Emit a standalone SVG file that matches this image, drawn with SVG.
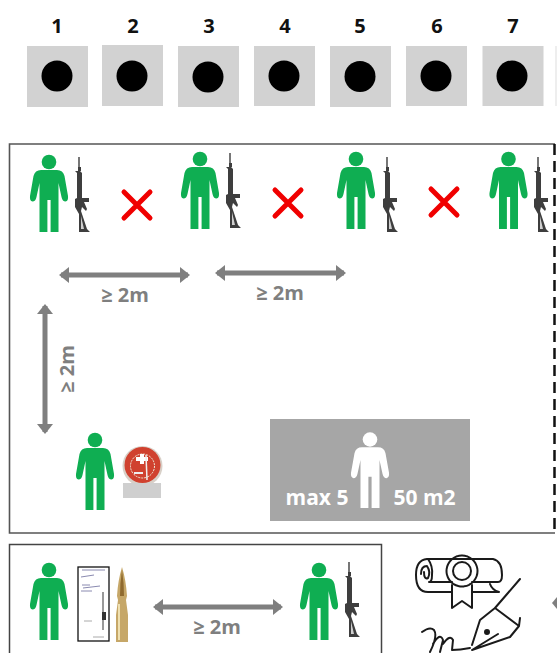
<svg xmlns="http://www.w3.org/2000/svg" width="557" height="653" viewBox="0 0 557 653">
<style>
.t{fill:#d2d2d2}
.n{font:bold 20px "Open Sans","Liberation Sans",sans-serif;fill:#111;text-anchor:middle}
.g{font:bold 20px "Open Sans","Liberation Sans",sans-serif;fill:#7f7f7f;text-anchor:middle}
.w{font:bold 21px "Open Sans","Liberation Sans",sans-serif;fill:#fff;text-anchor:middle}
.x{stroke:#f00000;stroke-width:5;stroke-linecap:round;fill:none}
.a{stroke:#7f7f7f;stroke-width:5;fill:none;marker-start:url(#h);marker-end:url(#h)}
.i{fill:none;stroke:#1a1a1a;stroke-width:2;stroke-linecap:round;stroke-linejoin:round}
</style>
<defs>
<marker id="h" viewBox="0 0 10 16" refX="8" refY="8" markerWidth="10" markerHeight="16" markerUnits="userSpaceOnUse" orient="auto-start-reverse"><path d="M0 0 L10 8 L0 16 Z" fill="#7f7f7f"/></marker>
<symbol id="p" overflow="visible"><circle cx="0" cy="0" r="7.3"/><path d="M-8 8 H8 Q14 8 15.5 14 L19 34 Q19.5 39 16.5 39.5 Q13.5 39.5 12.5 35 L9.5 21 V70 H1.6 V38 H-1.6 V70 H-9.5 V21 L-12.5 35 Q-13.5 39.5 -16.5 39.5 Q-19.5 39 -19 34 L-15.5 14 Q-14 8 -8 8 Z"/></symbol>
<symbol id="r" overflow="visible"><path d="M-0.7 0 H0.7 V10 H2 V14 H1 L3 16 V41 H10 V45 H5 L8 52 L7 54 L3 50 L2 54 L8 72 L11 75 H0 V57 L-4 50 V42 L-2 41 V16 L-4 14 H-1 V10 H-.7 Z" fill="#3e3e3e"/><path d="M2 59 L5 72 H2 Z" fill="#cfcfcf"/></symbol>
</defs>
<rect width="557" height="653" fill="#fff"/>

<g id="target-1"><text class="n" x="57" y="33">1</text><rect class="t" x="27" y="46" width="61" height="61"/><circle cx="57" cy="76" r="15.5"/></g>
<g id="target-2"><text class="n" x="133" y="33">2</text><rect class="t" x="102" y="45" width="61" height="61"/><circle cx="132" cy="76" r="15.5"/></g>
<g id="target-3"><text class="n" x="209" y="33">3</text><rect class="t" x="178" y="46" width="61" height="61"/><circle cx="208" cy="77" r="15.5"/></g>
<g id="target-4"><text class="n" x="285" y="33">4</text><rect class="t" x="254" y="46" width="61" height="60"/><circle cx="284" cy="76" r="15.5"/></g>
<g id="target-5"><text class="n" x="360" y="33">5</text><rect class="t" x="330" y="46" width="61" height="61"/><circle cx="360" cy="76.500" r="15.5"/></g>
<g id="target-6"><text class="n" x="437" y="33">6</text><rect class="t" x="406" y="46" width="61" height="60"/><circle cx="436" cy="76" r="15.5"/></g>
<g id="target-7"><text class="n" x="513" y="33">7</text><rect class="t" x="482.500" y="46" width="61" height="60"/><circle cx="512" cy="76" r="15.500"/></g>
<rect x="555" y="46" width="2" height="60" fill="#eee"/>

<g id="range-frame" fill="none">
<path d="M555 144 H9.500 V533 H555" stroke="#555" stroke-width="1.600"/>
<path d="M554.500 144 V533" stroke="#111" stroke-width="2.500" stroke-dasharray="11 6"/>
</g>
<g id="lower-frame" fill="none"><path d="M9.500 653 V544.500 H381.500 V653" stroke="#444" stroke-width="1.500"/></g>

<g id="shooter-1"><use href="#p" x="49" y="162" fill="#0fae52"/><use href="#r" x="79" y="157"/></g>
<g id="shooter-2"><use href="#p" x="200" y="159" fill="#0fae52"/><use href="#r" x="230" y="153"/></g>
<g id="shooter-3"><use href="#p" x="356" y="159" fill="#0fae52"/><use href="#r" x="387" y="157"/></g>
<g id="shooter-4"><use href="#p" x="508.500" y="159" fill="#0fae52"/><use href="#r" x="538" y="157"/></g>

<g id="cross-1"><path class="x" d="M124 192 L150 218 M150 192 L124 218"/></g>
<g id="cross-2"><path class="x" d="M275 190 L301 216 M301 190 L275 216"/></g>
<g id="cross-3"><path class="x" d="M431 189 L457 215 M457 189 L431 215"/></g>

<g id="connectors">
<line class="a" x1="61" y1="275" x2="188" y2="275"/>
<line class="a" x1="217" y1="273" x2="344" y2="273"/>
<line class="a" x1="45" y1="306" x2="45" y2="432"/>
<line class="a" x1="155" y1="607" x2="281" y2="607"/>
</g>
<g id="labels">
<text class="g" x="125" y="302">≥ 2m</text>
<text class="g" x="280" y="300">≥ 2m</text>
<text class="g" transform="translate(74 369) rotate(-90)">≥ 2m</text>
<text class="g" x="217" y="634">≥ 2m</text>
</g>

<g id="instructor"><use href="#p" x="95" y="440" fill="#0fae52"/>
<rect x="123" y="483" width="38" height="15" rx="1.500" fill="#cfcfcf"/>
<circle cx="142.500" cy="466" r="20" fill="#d8d0c8"/><circle cx="142.500" cy="465" r="18" fill="#d0412f"/>
<circle cx="142.500" cy="466" r="12" fill="none" stroke="#eed" stroke-width="1" stroke-dasharray="2 1"/>
<path d="M136 457 h4 v-3 h4 v3 h4 v4 h-4 v3 h-4 v-3 h-4 Z" fill="#fff"/>
<path d="M146 455 L147 480" stroke="#eee" stroke-width="1.500"/>
<path d="M134 473 h9" stroke="#eee" stroke-width="2"/>
<rect x="123" y="483" width="38" height="15" fill="#cfcfcf"/>
</g>

<g id="max-area"><rect x="270" y="419" width="200" height="102" fill="#a6a6a6"/>
<g transform="translate(370 439.500) scale(1 .98)"><use href="#p" x="0" y="0" fill="#fff"/></g>
<text class="w" x="317" y="505">max 5</text><text class="w" x="424.500" y="505">50 m2</text></g>

<g id="ammo-issue"><use href="#p" x="49" y="570" fill="#0fae52"/>
<rect x="78" y="567" width="31" height="74" fill="#fff" stroke="#111" stroke-width="1.300"/>
<path d="M82 570 H105 M81 577 L94 575 M82 585 H90 M83 588 L100 586 M81 591 H92" stroke="#8a8ab0" stroke-width="1"/>
<path d="M103 592 V630" stroke="#999" stroke-width="2"/><path d="M102 612 h4 v8 h-4 Z" fill="#333"/>
<path d="M84 621 H92 M93 637 H104" stroke="#aaa" stroke-width="1"/>
<path d="M122 567 Q118 580 117 596 L118 600 L116 615 V642 H128 V615 L126 600 L127 596 Q126 580 122 567 Z" fill="#c6a768"/>
<path d="M122 570 Q120 582 120 596 H124 Q124 582 122 570 Z" fill="#8f6a2f"/>
<path d="M119 604 V640" stroke="#efe0b0" stroke-width="2"/>
</g>
<g id="shooter-5"><use href="#p" x="319" y="570" fill="#0fae52"/><use href="#r" x="349" y="562"/></g>

<g id="certificate" class="i">
<path d="M427 559 H493 Q502 561 502 575 Q502 582 498 582 H472 M452 582 H430 M428 559 Q433 566 432 575 Q432 582 429 582 M427 559 Q416 560 416 575 Q416 592 428 592 H451 M473 592 H499 Q492 590 490 584"/>
<path d="M424 572 Q424 580 428 578 Q431 572 427 566 Q421 566 421 574"/>
<circle cx="462" cy="571" r="15.500" stroke-dasharray="5 .6"/><circle cx="462" cy="571" r="9"/>
<path d="M452 585 V608 L462 601 L472 608 V585"/>
<path d="M520 579 L495 608 M495 608 L519 626 M519 626 L520 618 M495 608 L480 620 L472 645 M519 626 L510 637 L472 650 L498 634"/>
<circle cx="487" cy="632" r="2" fill="#1a1a1a"/>
<path d="M422 632 Q430 626 434 630 Q438 636 430 652 M433 644 Q440 632 443 640 L440 652 M443 644 Q450 634 453 640 L452 650 Q460 650 470 648"/>
</g>
<path id="next-arrow" d="M552 603 L557 597 V609 Z" fill="#7f7f7f"/>
</svg>
